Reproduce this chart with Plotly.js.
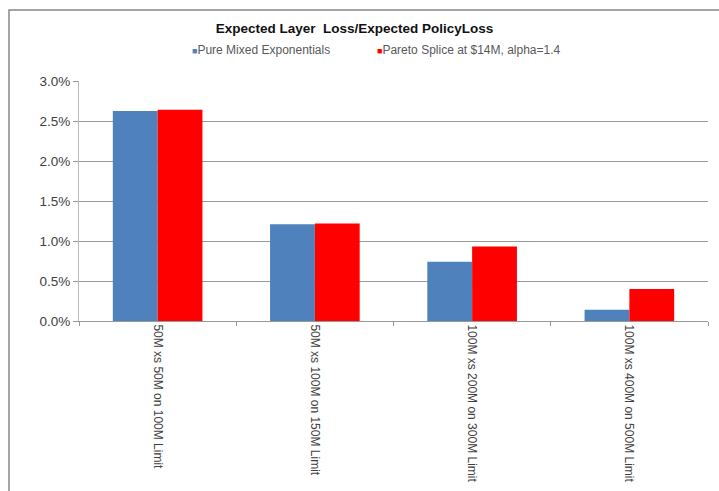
<!DOCTYPE html>
<html>
<head>
<meta charset="utf-8">
<script src="https://cdn.plot.ly/plotly-3.0.1.min.js"></script>
<style>
  html, body { margin: 0; padding: 0; background: #fff; }
  #chart { width: 719px; height: 491px; }
</style>
</head>
<body>
<div id="chart"></div>
<script>
// Layer categories and the ratio of expected layer loss to expected policy loss
const layers = [
  "50M xs 50M on 100M Limit",
  "50M xs 100M on 150M Limit",
  "100M xs 200M on 300M Limit",
  "100M xs 400M on 500M Limit"
];
const pureMixedExp = [0.02625, 0.0121, 0.0074, 0.0014];
const paretoSplice = [0.0264, 0.0122, 0.0093, 0.0040];
const seriesNames = ["Pure Mixed Exponentials", "Pareto Splice at $14M, alpha=1.4"];
const yTicks = [0, 0.005, 0.01, 0.015, 0.02, 0.025, 0.03];
const yTickText = ["0.0%", "0.5%", "1.0%", "1.5%", "2.0%", "2.5%", "3.0%"];

const blue = "#4F81BD";
const red = "#FF0000";
const font = "Liberation Sans, Arial, sans-serif";

const traces = [
  { type: "bar", name: seriesNames[0], x: layers, y: pureMixedExp,
    marker: { color: blue }, hoverinfo: "x+y" },
  { type: "bar", name: seriesNames[1], x: layers, y: paretoSplice,
    marker: { color: red }, hoverinfo: "x+y" }
];

const layout = {
  width: 719, height: 491,
  margin: { l: 79, r: 11, t: 81, b: 170 },
  paper_bgcolor: "#fff", plot_bgcolor: "#fff",
  showlegend: false,
  barmode: "group",
  bargap: 0.43, bargroupgap: 0,
  font: { family: font, size: 12, color: "#404040" },
  title: {
    text: "<b>Expected Layer  Loss/Expected PolicyLoss</b>",
    font: { family: font, size: 13.5, color: "#111" },
    x: 0.493, xanchor: "center", y: 0.942, yanchor: "middle"
  },
  xaxis: {
    type: "category",
    tickangle: 90,
    tickfont: { family: font, size: 12, color: "#404040" },
    ticks: "outside", tickson: "boundaries", ticklen: 4, tickcolor: "#999",
    showline: true, linecolor: "#999", linewidth: 1,
    showgrid: false, zeroline: false
  },
  yaxis: {
    range: [0, 0.03],
    tickvals: yTicks, ticktext: yTickText,
    tickfont: { family: font, size: 13.5, color: "#404040" },
    ticks: "outside", ticklen: 5, tickcolor: "#999",
    showline: true, linecolor: "#bbb", linewidth: 1,
    showgrid: true, gridcolor: "#999", gridwidth: 1,
    zeroline: false
  },
  annotations: [
    { xref: "paper", yref: "paper", x: 0.176, y: 1.13, xanchor: "left", yanchor: "middle",
      showarrow: false, font: { family: font, size: 12, color: "#595959" },
      text: '<span style="color:' + blue + ';font-size:9px">■</span>' + seriesNames[0] },
    { xref: "paper", yref: "paper", x: 0.471, y: 1.13, xanchor: "left", yanchor: "middle",
      showarrow: false, font: { family: font, size: 12, color: "#595959" },
      text: '<span style="color:' + red + ';font-size:9px">■</span>' + seriesNames[1] }
  ],
  shapes: [
    // chart frame
    { type: "rect", xref: "paper", yref: "paper",
      x0: -0.1113, x1: 1.06, y0: -0.8, y1: 1.2958,
      line: { color: "#888", width: 1.5 }, fillcolor: "rgba(0,0,0,0)", layer: "below" }
  ]
};

Plotly.newPlot("chart", traces, layout, { displayModeBar: false, staticPlot: true });
</script>
</body>
</html>
